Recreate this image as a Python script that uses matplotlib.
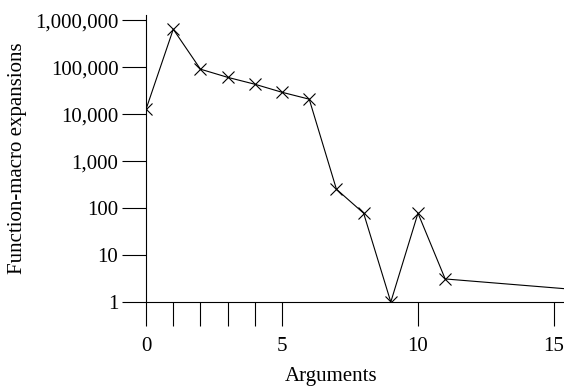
import matplotlib
matplotlib.use('Agg')
import matplotlib.pyplot as plt
from matplotlib.ticker import FuncFormatter

# Anzahl Argumente und Expansionen
args = [0, 1, 2, 3, 4, 5, 6, 7, 8, 9, 10, 11, 16]
expansions = [12800, 645000, 91000, 61000, 43500, 29300, 20900, 253, 78, 1, 78, 3.1, 1.8]

x_ticks = [0, 1, 2, 3, 4, 5, 10, 15]
x_labels = ['0', '', '', '', '', '5', '10', '15']
y_ticks = [1, 10, 100, 1000, 10000, 100000, 1000000]

plt.rcParams['font.family'] = ['Liberation Serif', 'DejaVu Serif']

fig = plt.figure(figsize=(5.64, 3.88), dpi=100)
ax = fig.add_axes([0.259, 0.2216, 0.741, 0.7394])

ax.plot(args, expansions, color='black', lw=0.8, marker='x', markersize=8.5,
        markeredgewidth=0.8, clip_on=True)

ax.set_yscale('log')
ax.set_xlim(0, 15.37)
ax.set_ylim(1, 10 ** 6.11)

ax.set_xticks(x_ticks)
ax.set_xticklabels(x_labels)
ax.set_yticks(y_ticks)
ax.yaxis.set_major_formatter(FuncFormatter(lambda v, p: f'{int(round(v)):,}'))
ax.yaxis.set_minor_locator(plt.NullLocator())

ax.tick_params(axis='both', direction='out', length=17, width=0.8, labelsize=15)
ax.tick_params(axis='y', pad=3)
ax.tick_params(axis='x', pad=8)

for s in ['top', 'right']:
    ax.spines[s].set_visible(False)
for s in ['left', 'bottom']:
    ax.spines[s].set_linewidth(0.8)

ax.set_xlabel('Arguments', fontsize=15)
ax.set_ylabel('Function-macro expansions', fontsize=15)
ax.xaxis.set_label_coords(0.443, -0.225)
ax.yaxis.set_label_coords(-0.285, 0.5)

fig.savefig('out.png', dpi=100)
